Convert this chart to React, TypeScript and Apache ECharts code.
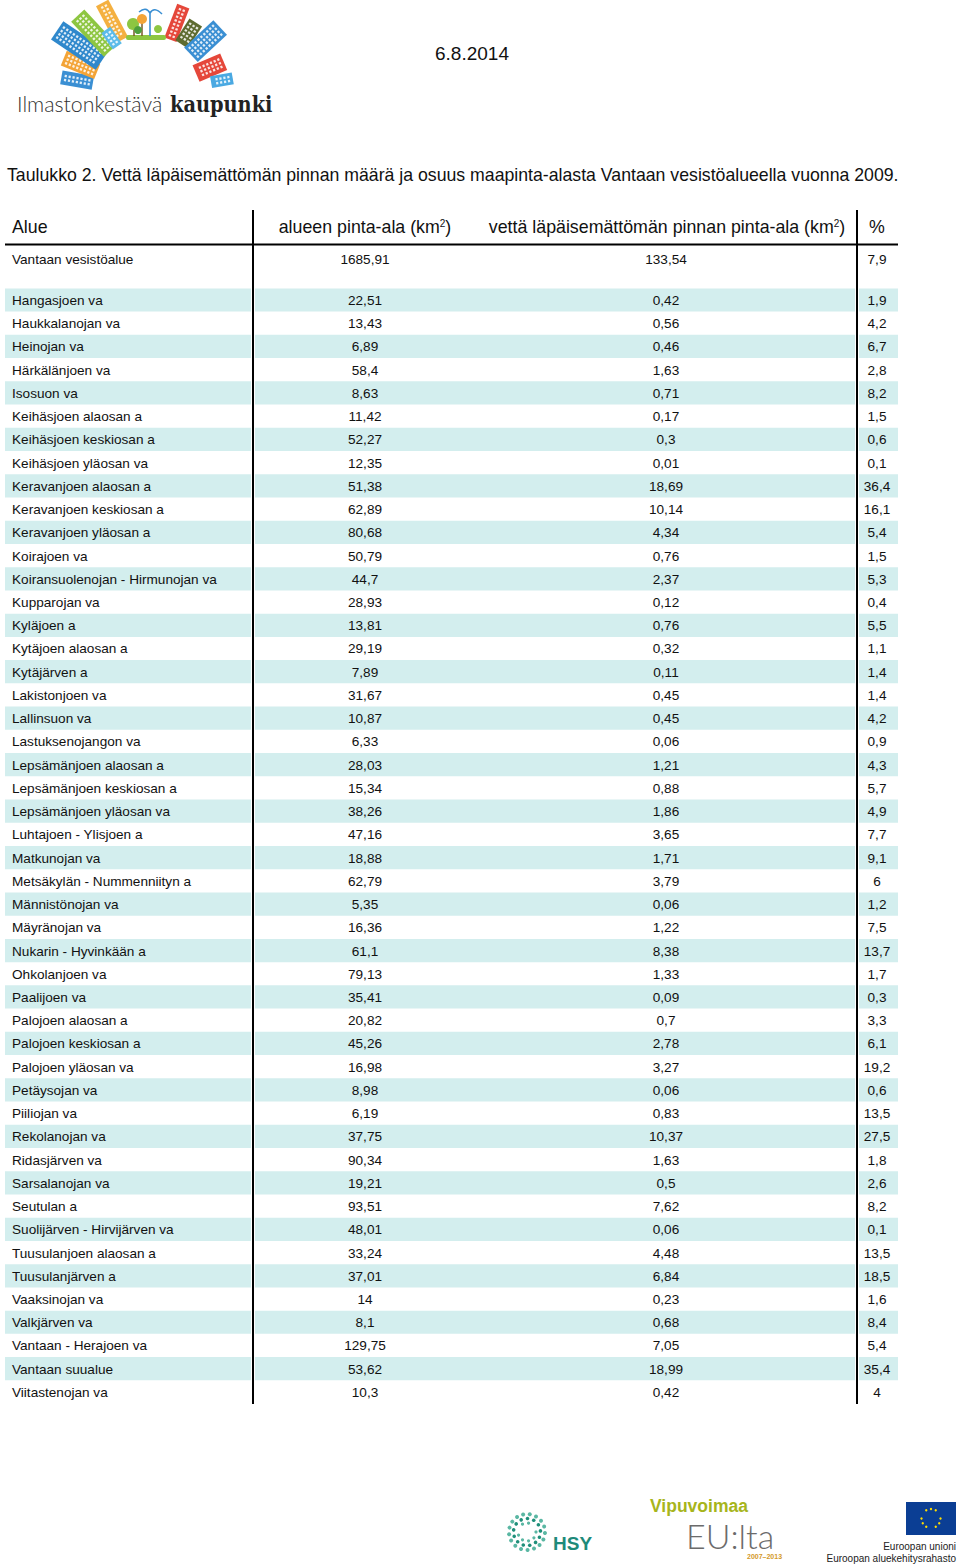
import React, { useEffect, useRef } from "react";
import * as echarts from "echarts";

// ---------- DATA ----------
const titleText =
  "Taulukko 2. Vettä läpäisemättömän pinnan määrä ja osuus maapinta-alasta Vantaan vesistöalueella vuonna 2009.";
const dateText = "6.8.2014";
const columnHeaders = [
  "Alue",
  "alueen pinta-ala (km{sup|2})",
  "vettä läpäisemättömän pinnan pinta-ala (km{sup|2})",
  "%",
];
const totalName = "Vantaan vesistöalue";
const totalArea = 1685.91;
const totalImpervious = 133.54;
const totalPct = 7.9;

const rowNames = [
  "Hangasjoen va", "Haukkalanojan va", "Heinojan va", "Härkälänjoen va", "Isosuon va",
  "Keihäsjoen alaosan a", "Keihäsjoen keskiosan a", "Keihäsjoen yläosan va",
  "Keravanjoen alaosan a", "Keravanjoen keskiosan a", "Keravanjoen yläosan a",
  "Koirajoen va", "Koiransuolenojan - Hirmunojan va", "Kupparojan va", "Kyläjoen a",
  "Kytäjoen alaosan a", "Kytäjärven a", "Lakistonjoen va", "Lallinsuon va",
  "Lastuksenojangon va", "Lepsämänjoen alaosan a", "Lepsämänjoen keskiosan a",
  "Lepsämänjoen yläosan va", "Luhtajoen - Ylisjoen a", "Matkunojan va",
  "Metsäkylän - Nummenniityn a", "Männistönojan va", "Mäyränojan va",
  "Nukarin - Hyvinkään a", "Ohkolanjoen va", "Paalijoen va", "Palojoen alaosan a",
  "Palojoen keskiosan a", "Palojoen yläosan va", "Petäysojan va", "Piiliojan va",
  "Rekolanojan va", "Ridasjärven va", "Sarsalanojan va", "Seutulan a",
  "Suolijärven - Hirvijärven va", "Tuusulanjoen alaosan a", "Tuusulanjärven a",
  "Vaaksinojan va", "Valkjärven va", "Vantaan - Herajoen va", "Vantaan suualue",
  "Viitastenojan va",
];
const areaKm2 = [
  22.51, 13.43, 6.89, 58.4, 8.63, 11.42, 52.27, 12.35, 51.38, 62.89, 80.68, 50.79,
  44.7, 28.93, 13.81, 29.19, 7.89, 31.67, 10.87, 6.33, 28.03, 15.34, 38.26, 47.16,
  18.88, 62.79, 5.35, 16.36, 61.1, 79.13, 35.41, 20.82, 45.26, 16.98, 8.98, 6.19,
  37.75, 90.34, 19.21, 93.51, 48.01, 33.24, 37.01, 14, 8.1, 129.75, 53.62, 10.3,
];
const imperviousKm2 = [
  0.42, 0.56, 0.46, 1.63, 0.71, 0.17, 0.3, 0.01, 18.69, 10.14, 4.34, 0.76, 2.37,
  0.12, 0.76, 0.32, 0.11, 0.45, 0.45, 0.06, 1.21, 0.88, 1.86, 3.65, 1.71, 3.79,
  0.06, 1.22, 8.38, 1.33, 0.09, 0.7, 2.78, 3.27, 0.06, 0.83, 10.37, 1.63, 0.5,
  7.62, 0.06, 4.48, 6.84, 0.23, 0.68, 7.05, 18.99, 0.42,
];
const imperviousPct = [
  1.9, 4.2, 6.7, 2.8, 8.2, 1.5, 0.6, 0.1, 36.4, 16.1, 5.4, 1.5, 5.3, 0.4, 5.5, 1.1,
  1.4, 1.4, 4.2, 0.9, 4.3, 5.7, 4.9, 7.7, 9.1, 6, 1.2, 7.5, 13.7, 1.7, 0.3, 3.3,
  6.1, 19.2, 0.6, 13.5, 27.5, 1.8, 2.6, 8.2, 0.1, 13.5, 18.5, 1.6, 8.4, 5.4, 35.4, 4,
];

// ---------- LAYOUT / STYLE ----------
const FONT = "'Liberation Sans', Arial, sans-serif";
const TXT = "#111";
const SHADE = "#d3eeee";
const SEGS = [
  [5, 251],
  [255, 855],
  [859, 898],
];
const COLX = { name: 12, area: 365, imp: 666, pct: 877 };
const ROW_FS = 13.6;

const fmt = (v: number) => String(v).replace(".", ",");

function rowRenderer(names: string[], shaded: (i: number) => boolean) {
  return (params: any, api: any) => {
    const i = api.value(0);
    const y = api.coord([0, i])[1];
    const h = api.size([0, 1])[1];
    const children: any[] = [];
    if (shaded(i)) {
      SEGS.forEach(([a, b]) => {
        const xa = api.coord([a, i])[0];
        const xb = api.coord([b, i])[0];
        children.push({
          type: "rect",
          shape: { x: xa, y: y - h / 2, width: xb - xa, height: h },
          style: { fill: SHADE },
        });
      });
    }
    const cell = (x: number, text: string, align: string) => ({
      type: "text",
      x: api.coord([x, i])[0],
      y: y + 0.5,
      style: {
        text,
        align,
        verticalAlign: "middle",
        fontSize: ROW_FS,
        fontFamily: FONT,
        fill: TXT,
      },
    });
    children.push(cell(COLX.name, names[params.dataIndex], "left"));
    children.push(cell(COLX.area, fmt(api.value(1)), "center"));
    children.push(cell(COLX.imp, fmt(api.value(2)), "center"));
    children.push(cell(COLX.pct, fmt(api.value(3)), "center"));
    return { type: "group", children };
  };
}

// decorative logo buildings (angle from vertical, + = left)
const BUILDINGS = [
  { a: 80, r: 58, w: 14, h: 32, c: "#3a8fd3" },
  { a: 68, r: 57, w: 16, h: 36, c: "#f3a437" },
  { a: 56, r: 58, w: 22, h: 54, c: "#2f88cc" },
  { a: 43, r: 58, w: 18, h: 48, c: "#8dc641" },
  { a: 28, r: 60, w: 14, h: 42, c: "#f4b040" },
  { a: 35, r: 57, w: 11, h: 20, c: "#5cbbe9" },
  { a: -21, r: 57, w: 13, h: 36, c: "#e5473a" },
  { a: -33, r: 58, w: 15, h: 26, c: "#5d6b2f" },
  { a: -47, r: 56, w: 20, h: 40, c: "#3a8fd3" },
  { a: -67, r: 50, w: 18, h: 30, c: "#e5473a" },
  { a: -80, r: 62, w: 12, h: 22, c: "#4aa9e2" },
];

function logoElements(): any[] {
  const groups = BUILDINGS.map((b) => {
    const kids: any[] = [
      {
        type: "rect",
        shape: { x: -b.w / 2, y: -(b.r + b.h), width: b.w, height: b.h },
        style: { fill: b.c },
      },
    ];
    const cols = Math.max(1, Math.floor((b.w - 3) / 4));
    const rows = Math.max(1, Math.floor((b.h - 4) / 4));
    const x0 = -b.w / 2 + (b.w - cols * 4) / 2 + 0.8;
    for (let r = 0; r < rows; r++) {
      for (let c = 0; c < cols; c++) {
        kids.push({
          type: "rect",
          shape: { x: x0 + c * 4, y: -(b.r + b.h) + 3 + r * 4, width: 2.4, height: 2.2 },
          style: { fill: "rgba(255,255,255,0.85)" },
        });
      }
    }
    return { type: "group", rotation: (b.a * Math.PI) / 180, children: kids };
  });
  return [
    { type: "group", x: 150, y: 93, children: groups },
    // park
    { type: "rect", shape: { x: 126, y: 35, width: 40, height: 5, r: 2 }, style: { fill: "#8dc641" } },
    { type: "line", shape: { x1: 134, y1: 36, x2: 134, y2: 26 }, style: { stroke: "#7a5a2a", lineWidth: 1.5 } },
    { type: "line", shape: { x1: 142, y1: 36, x2: 142, y2: 22 }, style: { stroke: "#7a5a2a", lineWidth: 1.5 } },
    { type: "circle", shape: { cx: 133, cy: 24, r: 6 }, style: { fill: "#8dc641" } },
    { type: "circle", shape: { cx: 142, cy: 19, r: 5 }, style: { fill: "#f3a437" } },
    { type: "circle", shape: { cx: 138, cy: 30, r: 4 }, style: { fill: "#4e9f3d" } },
    { type: "circle", shape: { cx: 158, cy: 29, r: 4 }, style: { fill: "#8dc641" } },
    { type: "line", shape: { x1: 150, y1: 36, x2: 150, y2: 13 }, style: { stroke: "#3a8fd3", lineWidth: 1.6 } },
    { type: "bezierCurve", shape: { x1: 150, y1: 13, cpx1: 154, cpy1: 6, x2: 162, y2: 14 }, style: { stroke: "#3a8fd3", lineWidth: 1.6, fill: "none" } },
    { type: "bezierCurve", shape: { x1: 150, y1: 13, cpx1: 146, cpy1: 6, x2: 139, y2: 12 }, style: { stroke: "#3a8fd3", lineWidth: 1.6, fill: "none" } },
    {
      type: "text", x: 17, y: 104,
      style: { text: "Ilmastonkestävä", fontSize: 21.3, fontFamily: "Lato, 'Open Sans', sans-serif", fontWeight: 300, fill: "#333", align: "left", verticalAlign: "middle" },
    },
    {
      type: "text", x: 170, y: 104,
      style: { text: "kaupunki", fontSize: 21.5, fontFamily: "'DejaVu Serif Condensed', 'DejaVu Serif', serif", fontWeight: "bold", fill: "#222", align: "left", verticalAlign: "middle" },
    },
  ];
}

function footerElements(): any[] {
  const els: any[] = [];
  // HSY ring of dots
  const rings = [
    { r: 9, n: 9, s: 1.6 },
    { r: 13.5, n: 13, s: 1.8 },
    { r: 18, n: 17, s: 2 },
  ];
  rings.forEach((rg, k) => {
    for (let j = 0; j < rg.n; j++) {
      const ang = (j / rg.n) * Math.PI * 2 + k * 0.4;
      els.push({
        type: "circle",
        shape: { cx: 527 + rg.r * Math.cos(ang), cy: 1532 + rg.r * Math.sin(ang), r: rg.s },
        style: { fill: k === 1 ? "#1f8f7a" : "#5ab7a3" },
      });
    }
  });
  els.push({
    type: "text", x: 553, y: 1543,
    style: { text: "HSY", fontSize: 19, fontWeight: "bold", fontFamily: FONT, fill: "#1e8a7a", align: "left", verticalAlign: "middle" },
  });
  els.push({
    type: "text", x: 650, y: 1506,
    style: { text: "Vipuvoimaa", fontSize: 17.5, lineHeight: 15, fontWeight: "bold", fontFamily: FONT, fill: "#a7b51c", align: "left", verticalAlign: "middle" },
  });
  els.push({
    type: "text", x: 686, y: 1535,
    style: { text: "EU:lta", fontSize: 34, lineHeight: 29, fontWeight: 300, fontFamily: "Lato, sans-serif", fill: "#6b6b6b", align: "left", verticalAlign: "middle" },
  });
  els.push({
    type: "text", x: 747, y: 1556.5,
    style: { text: "2007–2013", fontSize: 7, lineHeight: 6, fontWeight: "bold", fontFamily: FONT, fill: "#d49a2a", align: "left", verticalAlign: "middle" },
  });
  // EU flag
  els.push({ type: "rect", shape: { x: 906, y: 1502, width: 50, height: 33 }, style: { fill: "#0b3e94" } });
  for (let j = 0; j < 12; j++) {
    const ang = (j / 12) * Math.PI * 2;
    els.push({
      type: "circle",
      shape: { cx: 931 + 9.5 * Math.cos(ang), cy: 1518.5 + 9.5 * Math.sin(ang), r: 1.2 },
      style: { fill: "#ffdd00" },
    });
  }
  els.push({
    type: "text", x: 956, y: 1546,
    style: { text: "Euroopan unioni", fontSize: 10, fontFamily: FONT, fill: "#222", align: "right", verticalAlign: "middle" },
  });
  els.push({
    type: "text", x: 956, y: 1558,
    style: { text: "Euroopan aluekehitysrahasto", fontSize: 10, fontFamily: FONT, fill: "#222", align: "right", verticalAlign: "middle" },
  });
  return els;
}

function headerElements(): any[] {
  const sup = { fontSize: 10, verticalAlign: "top", fontFamily: FONT, fill: TXT, lineHeight: 10 };
  const hdr = (x: number, text: string, align: string) => ({
    type: "text", x, y: 227,
    style: { text, align, verticalAlign: "middle", fontSize: 17.8, fontFamily: FONT, fill: TXT, rich: { sup } },
  });
  return [
    {
      type: "text", x: 7, y: 175,
      style: { text: titleText, fontSize: 17.7, fontFamily: FONT, fill: TXT, align: "left", verticalAlign: "middle" },
    },
    {
      type: "text", x: 435, y: 53,
      style: { text: dateText, fontSize: 19, fontFamily: FONT, fill: TXT, align: "left", verticalAlign: "middle" },
    },
    hdr(12, columnHeaders[0], "left"),
    hdr(365, columnHeaders[1], "center"),
    hdr(667, columnHeaders[2], "center"),
    hdr(877, columnHeaders[3], "center"),
    { type: "line", z: 10, shape: { x1: 5, y1: 244.5, x2: 898, y2: 244.5 }, style: { stroke: "#000", lineWidth: 2 } },
    { type: "line", z: 10, shape: { x1: 253, y1: 210, x2: 253, y2: 1404 }, style: { stroke: "#000", lineWidth: 2 } },
    { type: "line", z: 10, shape: { x1: 857, y1: 210, x2: 857, y2: 1404 }, style: { stroke: "#000", lineWidth: 2 } },
  ];
}

function buildOption(): any {
  const rowH = 23.233;
  return {
    animation: false,
    backgroundColor: "#fff",
    grid: [
      { left: 0, top: 259 - rowH / 2, width: 960, height: rowH },
      { left: 0, top: 300 - rowH / 2, width: 960, height: rowH * rowNames.length },
    ],
    xAxis: [
      { type: "value", gridIndex: 0, min: 0, max: 960, show: false },
      { type: "value", gridIndex: 1, min: 0, max: 960, show: false },
    ],
    yAxis: [
      { type: "category", gridIndex: 0, data: [totalName], inverse: true, show: false },
      { type: "category", gridIndex: 1, data: rowNames, inverse: true, show: false },
    ],
    series: [
      {
        type: "custom",
        xAxisIndex: 0,
        yAxisIndex: 0,
        encode: { y: 0, x: 1 },
        data: [[0, totalArea, totalImpervious, totalPct]],
        renderItem: rowRenderer([totalName], () => false),
      },
      {
        type: "custom",
        xAxisIndex: 1,
        yAxisIndex: 1,
        encode: { y: 0, x: 1 },
        data: rowNames.map((_, i) => [i, areaKm2[i], imperviousKm2[i], imperviousPct[i]]),
        renderItem: rowRenderer(rowNames, (i) => i % 2 === 0),
      },
    ],
    graphic: [...logoElements(), ...headerElements(), ...footerElements()],
  };
}

export default function App() {
  const ref = useRef<HTMLDivElement>(null);
  useEffect(() => {
    document.body.style.margin = "0";
    const chart = echarts.init(ref.current as HTMLDivElement, null, { renderer: "svg" });
    chart.setOption(buildOption());
    return () => chart.dispose();
  }, []);
  return <div ref={ref} style={{ width: 960, height: 1565, background: "#fff" }} />;
}
